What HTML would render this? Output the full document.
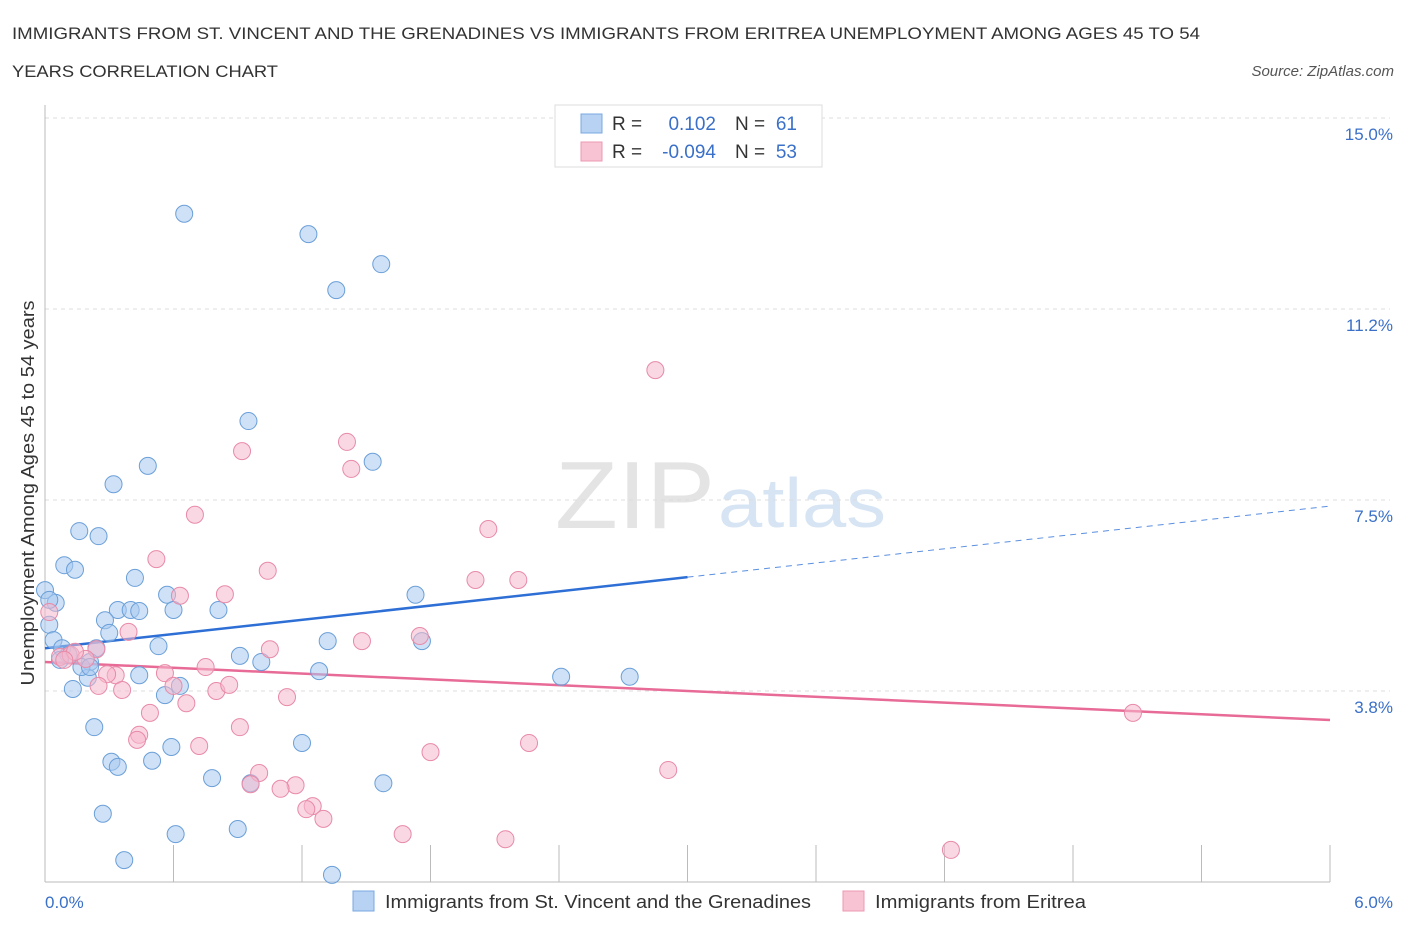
<!DOCTYPE html>
<html><head><meta charset="utf-8"><style>
body{margin:0;background:#fff;font-family:"Liberation Sans",sans-serif;}
svg text{font-family:"Liberation Sans",sans-serif;}
</style></head><body>
<svg id="chart" width="1406" height="930" xmlns="http://www.w3.org/2000/svg">
<text x="12" y="39" font-size="17" fill="#333" textLength="1188" lengthAdjust="spacingAndGlyphs">IMMIGRANTS FROM ST. VINCENT AND THE GRENADINES VS IMMIGRANTS FROM ERITREA UNEMPLOYMENT AMONG AGES 45 TO 54</text>
<text x="12" y="77" font-size="17" fill="#333" textLength="266" lengthAdjust="spacingAndGlyphs">YEARS CORRELATION CHART</text>
<text x="1394" y="76" font-size="15" fill="#555" font-style="italic" text-anchor="end">Source: ZipAtlas.com</text>
<text x="555" y="528" font-size="96" fill="#e4e4e4" textLength="160" lengthAdjust="spacingAndGlyphs" font-family="Liberation Serif">ZIP</text>
<text x="718" y="527" font-size="70" fill="#d6e4f4" textLength="168" lengthAdjust="spacingAndGlyphs">atlas</text>
<g id="grid"></g><g id="trends"></g><g id="pts"></g>
<text transform="translate(34,493) rotate(-90)" font-size="18" fill="#333" text-anchor="middle" textLength="385" lengthAdjust="spacingAndGlyphs">Unemployment Among Ages 45 to 54 years</text>
<text x="45" y="908" font-size="17" fill="#3a70c8">0.0%</text>
<text x="1393" y="908" font-size="17" fill="#3a70c8" text-anchor="end">6.0%</text>
<g>
<rect x="555" y="105" width="267" height="62" fill="#fff" stroke="#ddd"/>
<rect x="581" y="114" width="21" height="19" fill="#b8d2f4" stroke="#7aa8e0"/>
<rect x="581" y="142" width="21" height="19" fill="#f8c4d4" stroke="#eb98b2"/>
<text x="612" y="130" font-size="19" fill="#333">R =</text><text x="716" y="130" font-size="19" fill="#3a70c8" text-anchor="end">0.102</text>
<text x="735" y="130" font-size="19" fill="#333">N =</text><text x="797" y="130" font-size="19" fill="#3a70c8" text-anchor="end">61</text>
<text x="612" y="158" font-size="19" fill="#333">R =</text><text x="716" y="158" font-size="19" fill="#3a70c8" text-anchor="end">-0.094</text>
<text x="735" y="158" font-size="19" fill="#333">N =</text><text x="797" y="158" font-size="19" fill="#3a70c8" text-anchor="end">53</text>
</g>
<g>
<rect x="353" y="891" width="21" height="20" fill="#b8d2f4" stroke="#7aa8e0"/>
<text x="385" y="908" font-size="18" fill="#333" textLength="426" lengthAdjust="spacingAndGlyphs">Immigrants from St. Vincent and the Grenadines</text>
<rect x="843" y="891" width="21" height="20" fill="#f8c4d4" stroke="#eb98b2"/>
<text x="875" y="908" font-size="18" fill="#333" textLength="211" lengthAdjust="spacingAndGlyphs">Immigrants from Eritrea</text>
</g>
</svg>
<script>
const yTicks=[3.75,7.5,11.25,15];
const yTickLabels=["3.8%","7.5%","11.2%","15.0%"];
const blueX=[0.65,1.23,1.57,1.36,0.95,1.53,0.48,0.32,0.16,0.25,0.09,0.14,0.42,0.00,0.05,0.57,1.73,0.34,0.40,0.44,0.60,0.81,0.28,0.02,0.30,0.53,1.32,1.76,0.04,0.08,0.24,0.11,0.21,0.91,1.01,1.28,0.44,0.20,0.63,0.56,0.13,2.41,2.73,0.23,1.20,0.59,0.31,0.34,0.50,0.78,0.96,1.58,0.27,0.90,0.61,0.37,1.34,0.17,0.07,0.02,0.21];
const blueY=[13.12,12.72,12.13,11.62,9.05,8.25,8.17,7.81,6.89,6.79,6.22,6.13,5.97,5.73,5.48,5.64,5.64,5.34,5.34,5.32,5.34,5.34,5.14,5.05,4.89,4.63,4.73,4.73,4.75,4.59,4.59,4.46,4.32,4.44,4.32,4.14,4.06,4.01,3.85,3.67,3.79,4.03,4.03,3.04,2.73,2.65,2.36,2.26,2.38,2.04,1.94,1.94,1.34,1.04,0.94,0.43,0.14,4.22,4.36,5.54,4.22];
const pinkX=[2.85,1.41,0.92,1.43,0.70,2.07,0.52,1.04,2.01,2.21,0.84,0.63,0.39,1.48,1.75,1.05,0.02,0.07,0.12,0.24,0.75,0.33,0.56,0.29,0.25,0.36,0.60,0.80,0.86,0.66,1.13,0.49,5.08,0.44,0.43,0.91,0.72,1.80,2.26,2.91,1.00,0.96,1.17,1.10,1.25,1.22,1.30,1.67,2.15,4.23,0.19,0.14,0.09];
const pinkY=[10.05,8.64,8.46,8.11,7.21,6.93,6.34,6.11,5.93,5.93,5.65,5.62,4.91,4.73,4.83,4.57,5.30,4.42,4.46,4.57,4.22,4.06,4.10,4.08,3.85,3.77,3.85,3.75,3.87,3.51,3.63,3.32,3.32,2.89,2.79,3.04,2.67,2.55,2.73,2.20,2.14,1.92,1.90,1.83,1.49,1.43,1.24,0.94,0.84,0.63,4.38,4.52,4.36];
const blueTrend=[4.59,7.38], blueSolidEnd=3.0;
const pinkTrend=[4.32,3.18];
const X0=45,X1=1330,Y0=882,Y15=118;
const sx=v=>X0+v/6*(X1-X0), sy=v=>Y0-v/15*(Y0-Y15);
const NS="http://www.w3.org/2000/svg";
function mk(tag,parent,attrs){const e=document.createElementNS(NS,tag);for(const k in attrs)e.setAttribute(k,attrs[k]);parent.appendChild(e);return e;}
const grid=document.getElementById('grid');
yTicks.forEach((t,i)=>{
 const l=mk('line',grid,{x1:X0,x2:1390,y1:sy(t),y2:sy(t),stroke:'#ddd','stroke-dasharray':'4,4'});
 
 
 const tx=mk('text',grid,{x:1393,y:sy(t)+22,'font-size':17,fill:'#3a70c8','text-anchor':'end'});
 tx.textContent=yTickLabels[i];
 
 
});
const ax=mk('line',grid,{x1:X0,x2:X1,y1:Y0,y2:Y0,stroke:'#bbb'});


const ay=mk('line',grid,{x1:X0,x2:X0,y1:105,y2:Y0,stroke:'#bbb'});


for(let i=0;i<=10;i++){
 const t=mk('line',grid,{x1:sx(i*0.6),x2:sx(i*0.6),y1:845,y2:Y0,stroke:'#bbb'});
 
 
}
const pts=document.getElementById('pts');
function dots(xs,ys,fill,stroke,name){xs.forEach((x,i)=>{
 const c=mk('circle',pts,{cx:sx(x),cy:sy(ys[i]),r:8.5,fill:fill,'fill-opacity':0.55,stroke:stroke,'stroke-width':1});
 
 
});}
dots(blueX,blueY,'#a8c8f0','#6a9fd8','point-stvincent');
dots(pinkX,pinkY,'#f5b8cc','#e88aa8','point-eritrea');
const tr=document.getElementById('trends');
const bAt=v=>blueTrend[0]+(blueTrend[1]-blueTrend[0])*v/6;
const b1=mk('line',tr,{x1:sx(0),y1:sy(bAt(0)),x2:sx(blueSolidEnd),y2:sy(bAt(blueSolidEnd)),stroke:'#2e6fd6','stroke-width':2.5});


const b2=mk('line',tr,{x1:sx(blueSolidEnd),y1:sy(bAt(blueSolidEnd)),x2:sx(6),y2:sy(bAt(6)),stroke:'#5a8fe0','stroke-width':1,'stroke-dasharray':'6,5'});


const p1=mk('line',tr,{x1:sx(0),y1:sy(pinkTrend[0]),x2:sx(6),y2:sy(pinkTrend[1]),stroke:'#e86a96','stroke-width':2.5});


</script>
</body></html>
